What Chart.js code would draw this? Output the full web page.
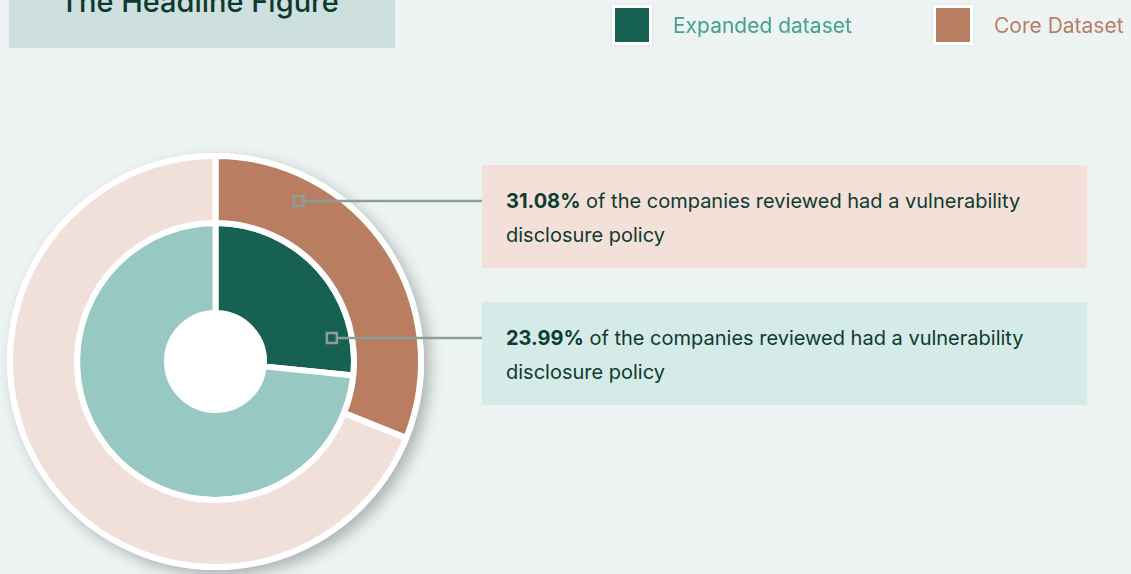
<!DOCTYPE html>
<html>
<head>
<meta charset="utf-8">
<script src="https://cdn.jsdelivr.net/npm/chart.js@4"></script>
<style>
  html, body { margin: 0; padding: 0; }
  body {
    width: 1131px; height: 574px; overflow: hidden; position: relative;
    background: #edf3f2; font-family: Inter, "Noto Sans", sans-serif; color: #0e3b31;
  }
  #chart { position: absolute; left: 0; top: 0; }
  .title {
    position: absolute; left: 9px; top: 0; width: 386px; height: 48px;
    background: #cde0dd;
  }
  .title span {
    position: absolute; left: 51px; top: -18px; font-size: 29px; font-weight: 500;
    line-height: 40px; color: #0d3a30; white-space: nowrap;
  }
  .legend-item { position: absolute; top: 6px; height: 38px; display: flex; align-items: center; }
  .legend-item .swatch {
    width: 34px; height: 34px; border: 3px solid #fff;
    box-shadow: 0 0 4px rgba(0,0,0,0.08);
  }
  .legend-item .label { margin-left: 21px; font-size: 21px; white-space: nowrap; }
  .callout {
    position: absolute; left: 482px; width: 581px; height: 84px;
    padding: 19px 0 0 24px; font-size: 20px; line-height: 34px; color: #0e3b31;
  }
  .callout b { font-weight: 700; }
</style>
</head>
<body>
<canvas id="chart" width="1131" height="574"></canvas>
<div class="title"><span>The Headline Figure</span></div>
<div id="legend"></div>
<div class="callout" id="box0"></div>
<div class="callout" id="box1"></div>
<script>
// chart data (arc shares as drawn in the figure)

const seriesNames = ['Core Dataset', 'Expanded dataset'];
const coreValues = [31.08, 68.92];
const expandedValues = [26.6, 73.4];
const calloutValues = ['31.08%', '23.99%'];
const calloutText = 'of the companies reviewed had a vulnerability disclosure policy';

// styles

const coreColors = ['#b97d61', '#f1e0d9'];
const expandedColors = ['#176153', '#97c8c1'];
const legendText = ['#b97c62', '#44a08f'];
const calloutBg = ['#f2e0d9', '#d4ebe7'];

// legend + callouts

const legend = document.querySelector('#legend');
const legendOrder = [1, 0];
const legendLeft = [612, 933];
legendOrder.forEach((s, i) => {
    const item = document.createElement('div');
    item.className = 'legend-item';
    item.style.left = legendLeft[i] + 'px';
    const fill = s === 0 ? coreColors[0] : expandedColors[0];
    item.innerHTML = `<div class="swatch" style="background:${fill}"></div>` +
        `<div class="label" style="color:${legendText[s]}">${seriesNames[s]}</div>`;
    legend.appendChild(item);
});

const boxTops = [165, 302];
calloutValues.forEach((v, i) => {
    const box = document.querySelector('#box' + i);
    box.style.top = boxTops[i] + 'px';
    box.style.background = calloutBg[i];
    box.innerHTML = `<b>${v}</b> ${calloutText}`;
});

// plugin: white disc with shadow behind rings, callout leader lines

const ringDecor = {
    id: 'ringDecor',
    beforeDatasetsDraw(chart) {
        const arc = chart.getDatasetMeta(0).data[0];
        const ctx = chart.ctx;
        ctx.save();
        ctx.shadowColor = 'rgba(40, 50, 48, 0.32)';
        ctx.shadowBlur = 14;
        ctx.shadowOffsetX = 6;
        ctx.shadowOffsetY = 6;
        ctx.fillStyle = '#ffffff';
        ctx.beginPath();
        ctx.arc(arc.x, arc.y, arc.outerRadius + 3, 0, Math.PI * 2);
        ctx.fill();
        ctx.restore();
    },
    afterDatasetsDraw(chart) {
        const ctx = chart.ctx;
        const depth = [0.63, 0.78];
        [0, 1].forEach(d => {
            const arc = chart.getDatasetMeta(d).data[0];
            const box = document.querySelector('#box' + d);
            const y = box.offsetTop + 36;
            const r = arc.innerRadius + depth[d] * (arc.outerRadius - arc.innerRadius);
            const x = arc.x + Math.sqrt(r * r - (y - arc.y) * (y - arc.y));
            ctx.save();
            ctx.strokeStyle = '#8b9e98';
            ctx.lineWidth = 2.5;
            ctx.strokeRect(x - 5, y - 5, 10, 10);
            ctx.beginPath();
            ctx.moveTo(x + 5, y);
            ctx.lineTo(box.offsetLeft, y);
            ctx.stroke();
            ctx.restore();
        });
    }
};

new Chart(document.querySelector('#chart'), {
    type: 'doughnut',
    data: {
        labels: ['Had a policy', 'No policy'],
        datasets: [{
            label: seriesNames[0],
            data: coreValues,
            backgroundColor: coreColors,
            borderColor: '#ffffff',
            borderWidth: 6,
            weight: 67
        }, {
            label: seriesNames[1],
            data: expandedValues,
            backgroundColor: expandedColors,
            borderColor: '#ffffff',
            borderWidth: 6,
            weight: 90
        }]
    },
    options: {
        responsive: false,
        animation: false,
        events: [],
        cutout: '23.6%',
        layout: { padding: { left: 7, right: 707, top: 153, bottom: 4 } },
        plugins: {
            legend: { display: false },
            tooltip: { enabled: false }
        }
    },
    plugins: [ringDecor]
});
</script>
</body>
</html>
